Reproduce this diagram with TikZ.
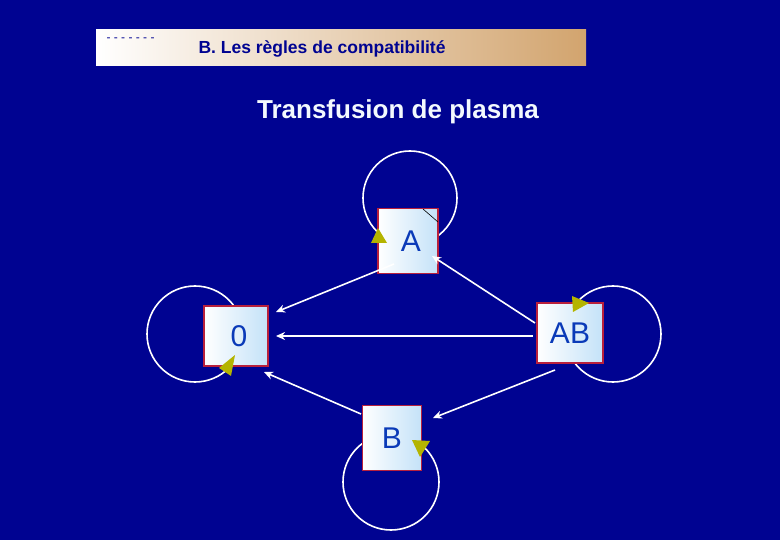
\documentclass[tikz,border=0pt]{standalone}
\usepackage{fontspec}
\setmainfont{Liberation Sans}
\usetikzlibrary{arrows.meta}
\definecolor{bg}{HTML}{000391}
\definecolor{tan}{HTML}{D2A46E}
\definecolor{frame}{HTML}{B8203C}
\definecolor{lblue}{HTML}{C4E2F8}
\definecolor{txt}{HTML}{0A3AB8}
\definecolor{tri}{HTML}{B4B400}
\tikzset{
  grp/.style={draw=frame,line width=1.5pt,left color=white,right color=lblue,minimum width=#1,minimum height=62pt,inner sep=0pt,font=\fontsize{30}{30}\selectfont,text=txt},
  lnk/.style={draw=white,line width=1.6pt,-{Stealth[length=9pt,width=8pt]}},
  loop/.style={draw=white,line width=1.6pt},
  trihead/.style={fill=tri,draw=none}
}
\begin{document}
\begin{tikzpicture}[x=1pt,y=-1pt]
\fill[bg] (0,0) rectangle (780,540);
\useasboundingbox (0,0) rectangle (780,540);
% header
\node[draw=none,left color=white,right color=tan,minimum width=490pt,minimum height=36pt,inner sep=0pt] (hdr) at (341,48) {};
\node[anchor=west,text=bg,font=\bfseries\fontsize{17.5}{17.5}\selectfont] (htitle) at (195,49) {B. Les règles de compatibilité};
\node[anchor=west,text=bg,font=\fontsize{12}{12}\selectfont] (hdash) at (103,40) {- - - - - - -};
% title
\node[text=white!80!lblue,font=\bfseries\fontsize{26}{26}\selectfont] (title) at (398,112) {Transfusion de plasma};
% loops
\draw[loop] (410,198) circle (47);
\draw[loop] (195,334) circle (48);
\draw[loop] (613,334) circle (48);
\draw[loop] (391,482) circle (48);
% nodes
\node[grp=60pt,minimum height=65pt] (A) at (408,241) {\hspace{6pt}A};
\node[grp=64pt,minimum height=60pt] (O) at (236,336) {\hspace{6pt}0};
\node[grp=66pt,minimum height=60pt] (AB) at (570,333) {AB};
\node[grp=59pt,minimum height=65pt] (B) at (392,438) {B};
\draw[black,line width=0.6pt] (423,209) -- (438,222);
% triangles
\fill[trihead] (371,243) -- (387,243) -- (378,228) -- cycle;
\fill[trihead] (219,368) -- (235,355) -- (231,376) -- cycle;
\fill[trihead] (572,296) -- (589,303) -- (573,312) -- cycle;
\fill[trihead] (412,440) -- (430,441) -- (420,457) -- cycle;
% edges
\coordinate (a1) at (394,264);
\coordinate (a2) at (432,256);
\coordinate (o1) at (276,312);
\coordinate (o2) at (276,336);
\coordinate (o3) at (264,372);
\coordinate (ab1) at (535,323);
\coordinate (ab2) at (533,336);
\coordinate (ab3) at (555,370);
\coordinate (b1) at (361,414);
\coordinate (b2) at (433,418);
\draw[lnk] (a1) -- (o1);
\draw[lnk] (ab1) -- (a2);
\draw[lnk] (ab2) -- (o2);
\draw[lnk] (b1) -- (o3);
\draw[lnk] (ab3) -- (b2);
\end{tikzpicture}
\end{document}
